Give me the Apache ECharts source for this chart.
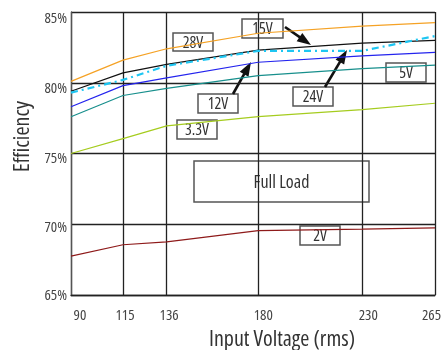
<!DOCTYPE html>
<html>
<head>
<meta charset="utf-8">
<script src="https://cdn.jsdelivr.net/npm/echarts@6/dist/echarts.min.js"></script>
<style>
  html, body { margin: 0; padding: 0; background: #fff; }
  #chart { width: 443px; height: 350px; }
</style>
</head>
<body>
<div id="chart"></div>
<script>
// input voltage (V rms) and efficiency (%) per output rail
const voltages = [90, 115, 136, 180, 230, 265]
const eff28V = [80.1, 81.6, 82.4, 83.5, 84.0, 84.25]
const eff15V = [79.4, 80.7, 81.3, 82.3, 82.8, 83.0]
const eff24V = [79.3, 80.2, 81.2, 82.25, 82.25, 83.3]
const eff12V = [78.3, 79.8, 80.35, 81.45, 81.9, 82.15]
const eff5V = [77.6, 79.1, 79.6, 80.5, 81.0, 81.25]
const eff3V3 = [75.0, 76.05, 76.95, 77.6, 78.1, 78.55]
const eff2V = [67.75, 68.55, 68.75, 69.55, 69.65, 69.75]
const yTicks = [65, 70, 75, 80, 85]

// condensed face, like the datasheet's narrow sans
const FONT = "'Open Sans', Roboto, sans-serif"
const txt = (size, color) => ({
  fontFamily: FONT, fontStyle: 'condensed', fontWeight: 'normal', fontSize: size, color: color
})

function pairs(vals) {
  return voltages.map((v, i) => [v, vals[i]])
}

function line(name, vals, color, extra) {
  return Object.assign({
    name: name,
    type: 'line',
    data: pairs(vals),
    symbol: 'none',
    silent: true,
    lineStyle: { color: color, width: 1.2 },
    z: 3
  }, extra || {})
}

// boxed label used for the rail names
function box(x, y, w, h, text, fs) {
  return {
    type: 'group',
    z: 20,
    children: [
      { type: 'rect', shape: { x: x, y: y, width: w, height: h },
        style: { fill: '#fff', stroke: '#555', lineWidth: 1.5 } },
      { type: 'text', x: x + w / 2, y: y + h / 2 + 1,
        style: { text: text, fontFamily: FONT, fontStyle: 'condensed', fontSize: fs || 16,
          fill: '#333', align: 'center', verticalAlign: 'middle' } }
    ]
  }
}

// black pointer arrow, tail -> tip
function arrow(x1, y1, x2, y2) {
  const dx = x2 - x1, dy = y2 - y1
  const len = Math.sqrt(dx * dx + dy * dy)
  const ux = dx / len, uy = dy / len
  const hl = 14, hw = 5
  const bx = x2 - ux * hl, by = y2 - uy * hl
  return {
    type: 'group',
    z: 21,
    children: [
      { type: 'line', shape: { x1: x1, y1: y1, x2: bx + ux * 2, y2: by + uy * 2 },
        style: { stroke: '#111', lineWidth: 2.6 } },
      { type: 'polygon',
        shape: { points: [[x2, y2], [bx - uy * hw, by + ux * hw], [bx + uy * hw, by - ux * hw]] },
        style: { fill: '#111' } }
    ]
  }
}

const chart = echarts.init(document.getElementById('chart'))

// small per-label nudges so the labels sit where the datasheet put them
const xPad = { 90: [0, 0, 0, 18], 115: [0, 0, 0, 4], 136: [0, 0, 0, 5], 180: [0, 0, 0, 10], 230: [0, 0, 0, 12], 265: [0, 7, 0, 0] }
const xRich = {}
voltages.forEach(v => { xRich['v' + v] = Object.assign(txt(15, '#444'), { padding: xPad[v] }) })
const yPad = { 85: 13, 80: 12, 75: 10, 70: 6, 65: 2 }
const yRich = {}
yTicks.forEach(t => { yRich['p' + t] = Object.assign(txt(15, '#444'), { padding: [yPad[t], 0, 0, 0] }) })

const option = {
  animation: false,
  grid: { left: 71, right: 8, top: 12, bottom: 55, outerBoundsMode: 'none' },
  xAxis: {
    type: 'value',
    min: 90,
    max: 265,
    name: 'Input Voltage (rms)',
    nameLocation: 'middle',
    nameGap: 34,
    nameTextStyle: Object.assign(txt(22, '#333'), { padding: [0, 0, 0, 58] }),
    axisLine: { show: true, lineStyle: { color: '#222', width: 1.3 } },
    axisTick: { show: false, customValues: voltages },
    axisLabel: {
      customValues: voltages,
      margin: 13,
      formatter: v => '{v' + v + '|' + v + '}',
      rich: xRich
    },
    splitLine: { show: true, lineStyle: { color: '#222', width: 1.3 } }
  },
  yAxis: {
    type: 'value',
    min: 65,
    max: 85,
    interval: 5,
    name: 'Efficiency',
    nameLocation: 'middle',
    nameGap: 36,
    nameTextStyle: Object.assign(txt(22, '#333'), { padding: [0, 0, 0, 34] }),
    axisLine: { show: true, lineStyle: { color: '#555', width: 1.3 } },
    axisTick: { show: false },
    axisLabel: {
      margin: 4,
      formatter: v => '{p' + v + '|' + v + '%}',
      rich: yRich
    },
    splitLine: { show: true, lineStyle: { color: '#222', width: 1.3 } }
  },
  series: [
    line('2V', eff2V, '#8e1a1a'),
    line('3.3V', eff3V3, '#a5cc1e'),
    line('5V', eff5V, '#178f8c'),
    line('12V', eff12V, '#2424ee'),
    line('15V', eff15V, '#111111'),
    line('28V', eff28V, '#f5a225'),
    line('24V', eff24V, '#1ec6f2', { lineStyle: { color: '#1ec6f2', width: 2.2, type: [7, 4, 2, 4] }, z: 4 })
  ],
  graphic: [
    box(173, 33, 40, 18, '28V'),
    box(242, 19, 41, 19, '15V'),
    box(198, 94, 40, 19, '12V'),
    box(293, 87, 40, 19, '24V'),
    box(386, 63, 40, 19, '5V'),
    box(177, 120, 40, 19, '3.3V'),
    box(194, 161, 175, 41, 'Full Load', 18),
    box(300, 226, 40, 19, '2V'),
    arrow(285, 27, 311, 45),
    arrow(233, 94, 251, 62),
    arrow(325, 87, 347, 50)
  ]
}

chart.setOption(option)
</script>
</body>
</html>
